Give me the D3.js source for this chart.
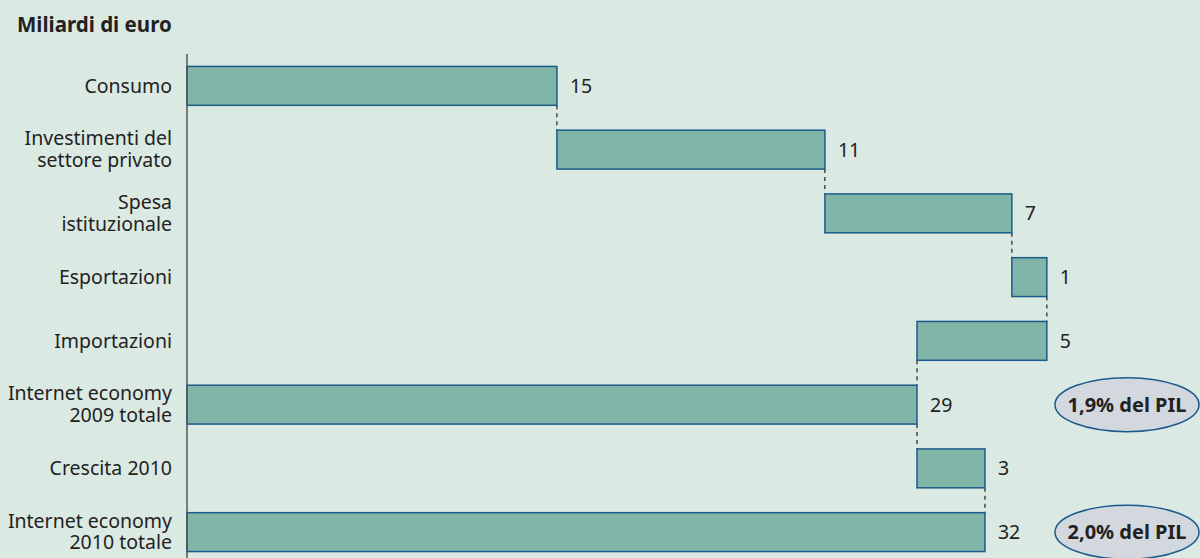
<!DOCTYPE html>
<html lang="it">
<head>
<meta charset="UTF-8">
<title>Internet economy</title>
<script src="https://d3js.org/d3.v7.min.js"></script>
<style>
html, body { margin: 0; padding: 0; }
body { background-color: #dbe9e3; font-family: "Noto Sans", "Open Sans", sans-serif; }
svg { display: block; }
.cat { font-size: 19.5px; fill: #222; }
.val { font-size: 19.5px; fill: #222; }
</style>
</head>
<body>
<script>
// categories (label lines) and contributions, in billions of euro
const categories = [
    ["Consumo"],
    ["Investimenti del", "settore privato"],
    ["Spesa", "istituzionale"],
    ["Esportazioni"],
    ["Importazioni"],
    ["Internet economy", "2009 totale"],
    ["Crescita 2010"],
    ["Internet economy", "2010 totale"]
];
// start and end of each bar on the value axis
const barStart = [0, 14.7, 25.35, 32.78, 29.01, 0, 29.01, 0];
const barEnd   = [14.7, 25.35, 32.78, 34.17, 34.17, 29.01, 31.71, 31.71];
const valueLabels = ["15", "11", "7", "1", "5", "29", "3", "32"];
const pilRows = [5, 7];
const pilLabels = ["1,9% del PIL", "2,0% del PIL"];

const w = 1200, h = 558;
const svg = d3.select("body").append("svg").attr("width", w).attr("height", h);

const x = d3.scaleLinear().domain([0, 29.01]).range([187, 917]);
const y = d3.scaleBand().domain(d3.range(categories.length)).range([54, 564]).paddingInner(0.39).paddingOuter(0.195);

svg.append("text").attr("x", 17).attr("y", 32)
    .style("font-size", "20.5px").style("font-weight", "bold").attr("fill", "#222")
    .text("Miliardi di euro");

// dashed connectors between consecutive bars
const connX = [barEnd[0], barEnd[1], barEnd[2], barEnd[3], barStart[4], barEnd[5], barEnd[6]];
svg.selectAll(".conn").data(connX).enter().append("line")
    .attr("x1", d => x(d)).attr("x2", d => x(d))
    .attr("y1", (d, i) => y(i) + y.bandwidth())
    .attr("y2", (d, i) => y(i + 1))
    .attr("stroke", "#222").attr("stroke-width", 1.2).attr("stroke-dasharray", "4,4");

svg.selectAll(".bar").data(categories).enter().append("rect")
    .attr("x", (d, i) => x(barStart[i]))
    .attr("y", (d, i) => y(i))
    .attr("width", (d, i) => x(barEnd[i]) - x(barStart[i]))
    .attr("height", y.bandwidth())
    .attr("fill", "#80b5a8").attr("stroke", "#1b5b8c").attr("stroke-width", 1.5);

svg.append("line").attr("x1", 187).attr("x2", 187).attr("y1", 54).attr("y2", h)
    .attr("stroke", "#555").attr("stroke-width", 1.5);

const cat = svg.selectAll(".cat").data(categories).enter().append("text")
    .attr("class", "cat").attr("text-anchor", "end")
    .attr("y", (d, i) => y(i) + y.bandwidth() / 2);
cat.selectAll("tspan").data(d => d.map((t, j) => ({t: t, j: j, n: d.length}))).enter().append("tspan")
    .attr("x", 172)
    .attr("dy", d => d.j === 0 ? (d.n === 1 ? "0.36em" : "-0.22em") : "1.1em")
    .text(d => d.t);

svg.selectAll(".val").data(valueLabels).enter().append("text")
    .attr("class", "val")
    .attr("x", (d, i) => x(Math.max(barStart[i], barEnd[i])) + 13)
    .attr("y", (d, i) => y(i) + y.bandwidth() / 2)
    .attr("dy", "0.36em")
    .text(d => d);

const pil = svg.selectAll(".pil").data(pilRows).enter().append("g")
    .attr("transform", d => "translate(1127," + (y(d) + y.bandwidth() / 2) + ")");
pil.append("ellipse").attr("rx", 72).attr("ry", 27)
    .attr("fill", "#d3d7de").attr("stroke", "#1b5b8c").attr("stroke-width", 1.5);
pil.append("text").attr("text-anchor", "middle").attr("dy", "0.36em")
    .style("font-size", "20px").style("font-weight", "bold").attr("fill", "#222")
    .text((d, i) => pilLabels[i]);
</script>
</body>
</html>
